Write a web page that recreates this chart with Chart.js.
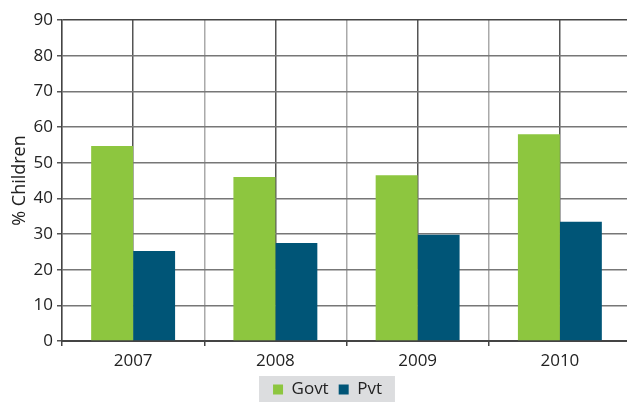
<!DOCTYPE html>
<html>
<head>
<meta charset="utf-8">
<script src="https://cdn.jsdelivr.net/npm/chart.js@4"></script>
<style>
  html, body { margin: 0; padding: 0; background: #fff; overflow: hidden; }
  #wrap { width: 627px; height: 402px; overflow: hidden; position: relative; }
  canvas { display: block; }
</style>
</head>
<body>
<div id="wrap"><canvas id="c" width="631" height="402"></canvas></div>
<script>
const categories = ['2007', '2008', '2009', '2010'];
const govtValues = [54.7, 46.0, 46.5, 58.0];
const pvtValues = [25.2, 27.5, 29.8, 33.4];
const yTicks = [0, 10, 20, 30, 40, 50, 60, 70, 80, 90];

const FONT = "'Open Sans', 'Noto Sans', sans-serif";

const legendShift = {
  id: 'legendShift',
  afterLayout(chart) {
    const lg = chart.legend;
    if (!lg) return;
    lg.left += 12;
    lg.right += 12;
  }
};

const legendBg = {
  id: 'legendBg',
  beforeDraw(chart) {
    const lg = chart.legend;
    if (!lg || !lg.legendHitBoxes || !lg.legendHitBoxes.length) return;
    const hb = lg.legendHitBoxes;
    const first = hb[0], last = hb[hb.length - 1];
    const x0 = first.left - 14;
    const x1 = last.left + last.width + 13;
    const y0 = first.top - 5;
    const ctx = chart.ctx;
    ctx.save();
    ctx.fillStyle = '#dcdddf';
    ctx.fillRect(x0, y0, x1 - x0, chart.height - y0);
    ctx.restore();
  }
};

new Chart(document.getElementById('c'), {
  type: 'bar',
  data: {
    labels: categories,
    datasets: [
      { label: 'Govt', data: govtValues, backgroundColor: '#8dc63f', borderWidth: 0 },
      { label: 'Pvt', data: pvtValues, backgroundColor: '#005577', borderWidth: 0 }
    ]
  },
  options: {
    responsive: false,
    animation: false,
    devicePixelRatio: 1,
    layout: { padding: { top: 20, right: 0, bottom: -6, left: 0 } },
    datasets: { bar: { categoryPercentage: 0.59, barPercentage: 1.0 } },
    plugins: {
      tooltip: { enabled: false },
      legend: {
        position: 'bottom',
        labels: {
          boxWidth: 10, boxHeight: 10, padding: 10,
          color: '#222',
          font: { family: FONT, size: 17 }
        }
      }
    },
    scales: {
      x: {
        type: 'category',
        offset: true,
        grid: { offset: true, color: '#aaaaaa', lineWidth: 1.5, tickLength: 5, tickColor: '#444' },
        border: { color: '#444', width: 2 },
        ticks: { color: '#222', padding: 5, font: { family: FONT, size: 17 } },
        afterFit(s) { s.height = 30; }
      },
      x2: {
        type: 'category',
        labels: categories,
        position: 'top',
        offset: true,
        grid: { offset: false, color: '#555', lineWidth: 1.5, drawTicks: false },
        border: { display: false },
        ticks: { display: false },
        afterFit(s) { s.height = 0; }
      },
      y: {
        min: 0, max: 90,
        afterBuildTicks(s) { s.ticks = yTicks.map(v => ({ value: v })); },
        grid: {
          color: (c) => (c.tick && c.tick.value === 90) ? '#444' : '#777',
          lineWidth: 1.5, tickLength: 5, tickColor: '#555'
        },
        border: { color: '#444', width: 1.5 },
        ticks: { color: '#222', padding: 4, font: { family: FONT, size: 17 } },
        title: { display: true, text: '% Children', color: '#222', padding: { top: 9, bottom: 0 }, font: { family: FONT, size: 18 } },
        afterFit(s) { s.width = 62; }
      }
    }
  },
  plugins: [legendShift, legendBg]
});
</script>
</body>
</html>
